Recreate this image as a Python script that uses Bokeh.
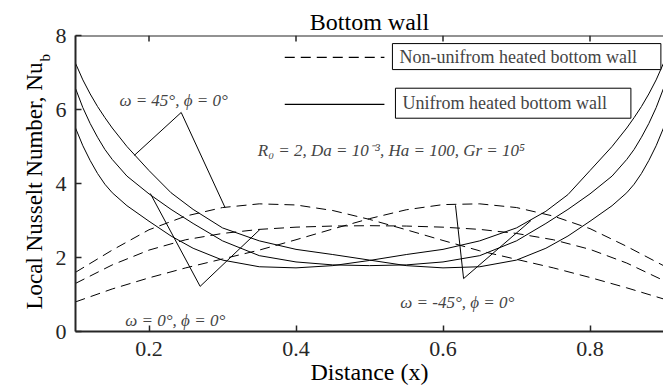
import math
from bokeh.plotting import figure
from bokeh.layouts import row
from bokeh.models import LinearAxis, FixedTicker, Label, Range1d, Span
from bokeh.embed import file_html
from bokeh.resources import INLINE

# ---------------- data ----------------
# non-uniform heating (dashed)
x_d = [0.10, 0.15, 0.20, 0.25, 0.30, 0.35, 0.40, 0.45, 0.50,
       0.55, 0.60, 0.65, 0.70, 0.75, 0.80, 0.85, 0.90]
nu_d_w45 = [1.60, 2.20, 2.75, 3.12, 3.35, 3.45, 3.42, 3.27, 3.03,
            2.75, 2.46, 2.18, 1.95, 1.72, 1.46, 1.18, 0.88]
nu_d_w0 = [1.30, 1.80, 2.20, 2.48, 2.65, 2.76, 2.82, 2.85, 2.86,
           2.85, 2.82, 2.76, 2.65, 2.48, 2.22, 1.85, 1.38]
nu_d_wm45 = [0.80, 1.15, 1.45, 1.72, 1.96, 2.20, 2.48, 2.77, 3.05,
             3.29, 3.43, 3.45, 3.35, 3.12, 2.78, 2.30, 1.78]

# uniform heating (solid)
x_s = [0.10, 0.11, 0.12, 0.13, 0.14, 0.15, 0.17, 0.20, 0.23, 0.26,
       0.30, 0.35, 0.40, 0.45, 0.50, 0.55, 0.60, 0.65, 0.70, 0.74,
       0.77, 0.80, 0.83, 0.85, 0.86, 0.87, 0.88, 0.89, 0.90]
nu_s_w45 = [7.25, 6.80, 6.42, 6.08, 5.78, 5.50, 5.00, 4.35, 3.75, 3.30,
            2.80, 2.45, 2.22, 2.08, 1.93, 1.78, 1.72, 1.75, 1.93, 2.25,
            2.58, 2.98, 3.40, 3.75, 3.98, 4.27, 4.62, 5.02, 5.50]
nu_s_w0 = [6.57, 6.05, 5.62, 5.25, 4.92, 4.65, 4.20, 3.72, 3.30, 2.92,
           2.45, 2.05, 1.88, 1.80, 1.78, 1.80, 1.88, 2.05, 2.45, 2.92,
           3.30, 3.72, 4.20, 4.65, 4.92, 5.25, 5.62, 6.05, 6.57]
nu_s_wm45 = [5.50, 5.02, 4.62, 4.27, 3.98, 3.75, 3.40, 2.98, 2.58, 2.25,
             1.93, 1.75, 1.72, 1.78, 1.92, 2.08, 2.22, 2.45, 2.80, 3.25,
             3.70, 4.35, 5.00, 5.50, 5.78, 6.08, 6.42, 6.80, 7.25]

x_ticks = [0.2, 0.4, 0.6, 0.8]
y_ticks = [0, 2, 4, 6, 8]

title_text = "Bottom wall"
x_label = "Distance (x)"
y_label_main = "Local Nusselt Number, Nu"
y_label_sub = "b"
legend_dashed = "Non-unifrom heated bottom wall"
legend_solid = "Unifrom heated bottom wall"
params_text = "R\u2080 = 2, Da = 10\u207b\u00b3, Ha = 100, Gr = 10\u2075"
ann_w45 = "\u03c9 = 45\u00b0, \u03d5 = 0\u00b0"
ann_w0 = "\u03c9 = 0\u00b0, \u03d5 = 0\u00b0"
ann_wm45 = "\u03c9 = -45\u00b0, \u03d5 = 0\u00b0"

# ---------------- styling constants ----------------
SERIF = "Liberation Serif"
AX = "#262626"
H = 388
LEFT_W = 52
MAIN_W = 611
Y_TOP = 8

# ---------------- main figure ----------------
p = figure(width=MAIN_W, height=H, output_backend="svg", toolbar_location=None,
           x_range=Range1d(0.1, 0.9), y_range=Range1d(0, Y_TOP),
           min_border_left=21, min_border_right=0, min_border_top=35,
           min_border_bottom=57, x_axis_location=None, y_axis_location=None)
p.outline_line_color = None
p.grid.visible = False
p.background_fill_color = "white"
p.border_fill_color = "white"

p.title.text = title_text
p.title.text_font = SERIF
p.title.text_font_size = "24px"
p.title.text_font_style = "normal"
p.title.align = "center"
p.title.text_color = "black"
p.title.standoff = 2
p.title.offset = 0


def style_axis(ax):
    ax.axis_line_width = 2
    ax.axis_line_color = AX
    ax.major_tick_line_color = AX
    ax.major_tick_line_width = 1.5
    ax.major_tick_in = 6
    ax.major_tick_out = 0
    ax.minor_tick_line_color = None
    ax.major_label_text_font = SERIF
    ax.major_label_text_color = AX
    ax.major_label_text_font_size = "22px"
    ax.axis_label_text_font = SERIF
    ax.axis_label_text_font_size = "24px"
    ax.axis_label_text_font_style = "normal"
    ax.axis_label_text_color = "black"


xb = LinearAxis(ticker=FixedTicker(ticks=x_ticks), axis_label=x_label)
style_axis(xb)
xb.major_label_standoff = 10
xb.axis_label_standoff = 0
p.add_layout(xb, "below")
yl = LinearAxis(ticker=FixedTicker(ticks=y_ticks))
style_axis(yl)
yl.major_label_standoff = 9
p.add_layout(yl, "left")

# top spine with inward ticks (box on)
p.add_layout(Span(location=Y_TOP, dimension="width", line_color=AX, line_width=2))
tick_len = 6 / 37.0
p.segment(x0=x_ticks, y0=[Y_TOP] * len(x_ticks), x1=x_ticks,
          y1=[Y_TOP - tick_len] * len(x_ticks), line_color=AX, line_width=1.5)

# curves
DASH = "10 6"
for ys in (nu_d_w45, nu_d_w0, nu_d_wm45):
    p.line(x_d, ys, line_color="black", line_width=1, line_dash=DASH)
for ys in (nu_s_w45, nu_s_w0, nu_s_wm45):
    p.line(x_s, ys, line_color="black", line_width=1)

# legend samples and boxes
p.line([0.3847, 0.5203], [7.41, 7.41], line_color="black", line_width=1.2, line_dash=DASH)
p.line([0.3847, 0.5203], [6.14, 6.14], line_color="black", line_width=1.2)
for txt, lx, ly, pv in ((legend_dashed, 0.5312, 7.43, 3), (legend_solid, 0.5353, 6.17, 5)):
    p.add_layout(Label(x=lx, y=ly, text=txt, text_font=SERIF,
                       text_font_size="18px", text_align="left", text_baseline="middle",
                       border_line_color="black", border_line_width=1,
                       background_fill_color="white",
                       padding=dict(left=7, right=24, top=pv, bottom=pv)))

# annotation leader lines
p.line([0.180, 0.2438, 0.3035], [4.76, 5.92, 3.35], line_color="black", line_width=1)
p.line([0.2018, 0.2696, 0.351], [3.73, 1.22, 2.76], line_color="black", line_width=1)
p.line([0.617, 0.628, 0.7197], [3.41, 1.43, 3.00], line_color="black", line_width=1)

for txt, lx, ly, fs in ((ann_w45, 0.1597, 6.24, "17px"), (params_text, 0.348, 4.89, "17px"),
                        (ann_w0, 0.1678, 0.30, "17px"), (ann_wm45, 0.542, 0.78, "17px")):
    p.add_layout(Label(x=lx, y=ly, text=txt, text_font=SERIF,
                       text_font_size=fs, text_font_style="italic",
                       text_align="left", text_baseline="middle"))

# ---------------- narrow left figure holding the rotated y label ----------------
# (its frame is aligned with the main frame, so it shares the main y scale)
q = figure(width=LEFT_W, height=H, output_backend="svg", toolbar_location=None,
           x_range=Range1d(0, LEFT_W), y_range=Range1d(0, Y_TOP),
           min_border_left=0, min_border_right=0, min_border_top=0,
           min_border_bottom=0, x_axis_location=None, y_axis_location=None)
q.outline_line_color = None
q.grid.visible = False
q.background_fill_color = "white"
q.border_fill_color = "white"
q.add_layout(Label(x=34, y=0.595, x_units="screen", text=y_label_main, angle=math.pi / 2,
                   text_font=SERIF, text_font_size="23px",
                   text_align="left", text_baseline="middle", text_color="black"))
q.add_layout(Label(x=44, y=7.30, x_units="screen", text=y_label_sub, angle=math.pi / 2,
                   text_font=SERIF, text_font_size="15px",
                   text_align="left", text_baseline="middle", text_color="black"))

layout = row(q, p, spacing=0)
open("out.html", "w").write(file_html(layout, INLINE))
